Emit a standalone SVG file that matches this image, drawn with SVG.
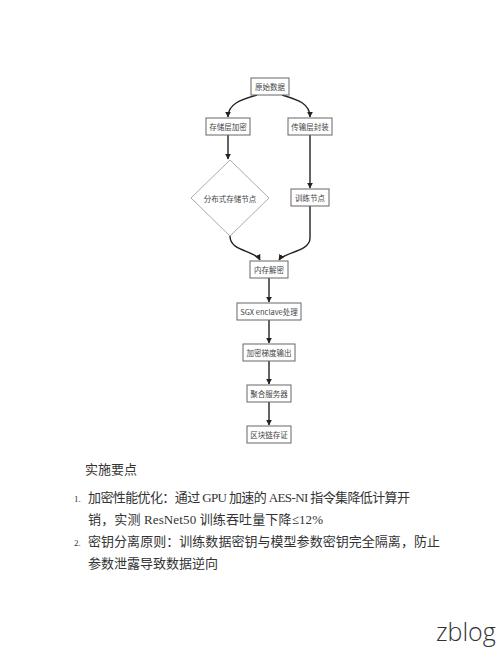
<svg xmlns="http://www.w3.org/2000/svg" width="500" height="647" viewBox="0 0 500 647">
<defs>
<style>
.box{fill:#ffffff;stroke:#666666;stroke-width:1}
.dia{fill:#ffffff;stroke:#aaaaaa;stroke-width:1}
.lbl{font-family:"Noto Sans CJK SC",sans-serif;font-size:7.5px;fill:#444444;text-anchor:middle;dominant-baseline:central}
.edge{fill:none;stroke:#222222;stroke-width:1.4;marker-end:url(#arr)}
.body{font-family:"Liberation Serif","Noto Sans CJK SC",serif;font-size:13px;fill:#333333}
.num{font-family:"Liberation Serif","Noto Sans CJK SC",serif;font-size:9px;fill:#333333}
</style>
<marker id="arr" viewBox="0 0 10 10" refX="9" refY="5" markerWidth="6" markerHeight="6" orient="auto" markerUnits="userSpaceOnUse">
<path d="M0,0 L10,5 L0,10 z" fill="#222222"/>
</marker>
</defs>
<rect width="500" height="647" fill="#ffffff"/>
<g id="connectors">
<path class="edge" d="M257,95 C240,100 228,104 228,117"/>
<path class="edge" d="M282,95 C299,100 310,104 310,117"/>
<path class="edge" d="M228,135 L228,159"/>
<path class="edge" d="M310,135 L310,188"/>
<path class="edge" d="M230,236 C230,252 255,250 260,260"/>
<path class="edge" d="M310,206 L310,238 C310,252 284,252 279,260"/>
<path class="edge" d="M269,278 L269,302"/>
<path class="edge" d="M269,320 L269,343"/>
<path class="edge" d="M269,361 L269,384"/>
<path class="edge" d="M269,402 L269,425"/>
</g>
<g id="n1"><rect class="box" x="251" y="78" width="38" height="17"/><text class="lbl" x="270" y="86.5">原始数据</text></g>
<g id="n2"><rect class="box" x="206" y="118" width="44" height="17"/><text class="lbl" x="228" y="126.5">存储层加密</text></g>
<g id="n3"><rect class="box" x="288" y="118" width="44" height="17"/><text class="lbl" x="310" y="126.5">传输层封装</text></g>
<g id="n4"><polygon class="dia" points="230,160 269,198 230,236 191,198"/><text class="lbl" x="230" y="198">分布式存储节点</text></g>
<g id="n5"><rect class="box" x="291" y="189" width="38" height="17"/><text class="lbl" x="310" y="197.5">训练节点</text></g>
<g id="n6"><rect class="box" x="250" y="261" width="38" height="17"/><text class="lbl" x="269" y="269.5">内存解密</text></g>
<g id="n7"><rect class="box" x="237" y="303" width="64" height="17"/><text class="lbl" x="269" y="311.5">SGX enclave处理</text></g>
<g id="n8"><rect class="box" x="243" y="344" width="52" height="17"/><text class="lbl" x="269" y="352.5">加密梯度输出</text></g>
<g id="n9"><rect class="box" x="247" y="385" width="44" height="17"/><text class="lbl" x="269" y="393.5">聚合服务器</text></g>
<g id="n10"><rect class="box" x="247" y="426" width="44" height="17"/><text class="lbl" x="269" y="434.5">区块链存证</text></g>
<g id="notes">
<text class="body" x="85" y="474">实施要点</text>
<text class="num" x="74" y="502">1.</text>
<text class="body" x="88" y="502" textLength="322" lengthAdjust="spacing">加密性能优化：通过 GPU 加速的 AES-NI 指令集降低计算开</text>
<text class="body" x="88" y="524" textLength="235" lengthAdjust="spacing">销，实测 ResNet50 训练吞吐量下降≤12%</text>
<text class="num" x="74" y="546">2.</text>
<text class="body" x="88" y="546" textLength="352" lengthAdjust="spacing">密钥分离原则：训练数据密钥与模型参数密钥完全隔离，防止</text>
<text class="body" x="88" y="568" textLength="130" lengthAdjust="spacing">参数泄露导致数据逆向</text>
</g>
<text x="436" y="641" font-family="Open Sans,sans-serif" font-size="25" font-weight="300" fill="#333333">zblog</text>
</svg>
